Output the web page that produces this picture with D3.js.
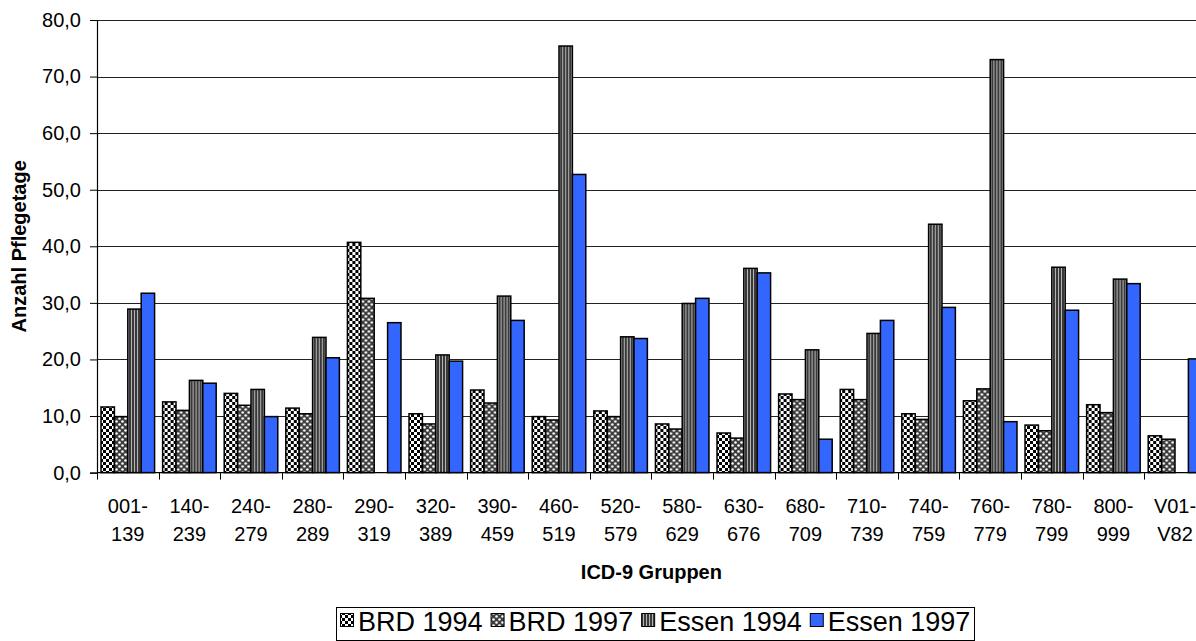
<!DOCTYPE html>
<html>
<head>
<meta charset="utf-8">
<script src="https://cdn.jsdelivr.net/npm/d3@7"></script>
<style>
  html, body { margin: 0; padding: 0; background: #fff; }
  svg { display: block; font-family: "Liberation Sans", Arial, sans-serif; }
</style>
</head>
<body>
<svg id="chart" width="1196" height="641"></svg>
<script>
// ICD-9 groups and average length of stay (days)
const categories = ["001-139", "140-239", "240-279", "280-289", "290-319", "320-389",
  "390-459", "460-519", "520-579", "580-629", "630-676", "680-709", "710-739",
  "740-759", "760-779", "780-799", "800-999", "V01-V82"];
const seriesNames = ["BRD 1994", "BRD 1997", "Essen 1994", "Essen 1997"];
const brd1994   = [11.6, 12.5, 14.0, 11.4, 40.7, 10.4, 14.6, 9.9, 10.9, 8.6, 7.0, 13.9, 14.7, 10.4, 12.7, 8.4, 12.0, 6.5];
const brd1997   = [9.9, 11.0, 11.9, 10.4, 30.8, 8.6, 12.3, 9.3, 9.9, 7.7, 6.1, 12.9, 12.9, 9.4, 14.8, 7.4, 10.6, 5.9];
const essen1994 = [28.9, 16.3, 14.7, 23.9, null, 20.8, 31.2, 75.4, 24.0, 29.9, 36.1, 21.7, 24.6, 43.9, 73.0, 36.3, 34.2, null];
const essen1997 = [31.7, 15.8, 9.9, 20.3, 26.5, 19.7, 26.9, 52.7, 23.7, 30.8, 35.3, 5.9, 26.9, 29.2, 9.0, 28.7, 33.4, 20.1];
const yTicks = [0, 10, 20, 30, 40, 50, 60, 70, 80];

const seriesValues = [brd1994, brd1997, essen1994, essen1997];
const fills = ["url(#pCheck)", "url(#pDots)", "url(#pStripes)", "#3366ff"];

const svg = d3.select("#chart");
const plot = { left: 97, right: 1205.8, top: 20, bottom: 472.6 };

// fill patterns
const defs = svg.append("defs");
const pc = defs.append("pattern").attr("id", "pCheck").attr("patternUnits", "userSpaceOnUse")
  .attr("width", 6).attr("height", 6);
pc.append("rect").attr("width", 6).attr("height", 6).attr("fill", "#fff");
pc.append("rect").attr("width", 3).attr("height", 3).attr("fill", "#000");
pc.append("rect").attr("x", 3).attr("y", 3).attr("width", 3).attr("height", 3).attr("fill", "#000");

const pd = defs.append("pattern").attr("id", "pDots").attr("patternUnits", "userSpaceOnUse")
  .attr("width", 6).attr("height", 6);
pd.append("rect").attr("width", 6).attr("height", 6).attr("fill", "#3c3c3c");
pd.append("circle").attr("cx", 1.5).attr("cy", 1.5).attr("r", 1.3).attr("fill", "#fff");
pd.append("circle").attr("cx", 4.5).attr("cy", 4.5).attr("r", 1.3).attr("fill", "#fff");

const ps = defs.append("pattern").attr("id", "pStripes").attr("patternUnits", "userSpaceOnUse")
  .attr("width", 3).attr("height", 4);
ps.append("rect").attr("width", 3).attr("height", 4).attr("fill", "#3a3a3a");
ps.append("rect").attr("x", 1).attr("width", 1).attr("height", 4).attr("fill", "#b4b4b4");

// scales
const x = d3.scaleBand().domain(categories).range([plot.left, plot.right]).padding(0);
const x1 = d3.scaleBand().domain(seriesNames).range([0, x.bandwidth()])
  .paddingInner(0).paddingOuter(0.3);
const y = d3.scaleLinear().domain([0, 80]).range([plot.bottom, plot.top]);

// gridlines
svg.append("g").selectAll("line").data(yTicks.filter(d => d > 0)).join("line")
  .attr("x1", plot.left).attr("x2", plot.right)
  .attr("y1", d => Math.round(y(d)) + 0.5).attr("y2", d => Math.round(y(d)) + 0.5)
  .attr("stroke", "#222").attr("stroke-width", 1);

// bars
const groups = svg.append("g").selectAll("g").data(categories).join("g")
  .attr("transform", c => `translate(${x(c)},0)`);
groups.selectAll("rect")
  .data((c, i) => seriesNames.map((s, k) => ({ s, k, v: seriesValues[k][i] })).filter(d => d.v != null))
  .join("rect")
  .attr("x", d => x1(d.s))
  .attr("width", x1.bandwidth())
  .attr("y", d => y(d.v))
  .attr("height", d => y(0) - y(d.v))
  .attr("fill", d => fills[d.k])
  .attr("stroke", "#000").attr("stroke-width", 1.5);

// y axis
const yAxis = svg.append("g").attr("transform", `translate(${plot.left},0)`)
  .call(d3.axisLeft(y).tickValues(yTicks).tickSize(7).tickPadding(9)
    .tickFormat(d => d.toFixed(1).replace(".", ",")));
yAxis.select(".domain").attr("stroke", "#000").attr("stroke-width", 1.2);
yAxis.selectAll(".tick line").attr("stroke", "#000");
yAxis.selectAll("text").attr("font-size", 20).attr("fill", "#000")
  .attr("font-family", "Liberation Sans, Arial, sans-serif");

// x axis
const xAxis = svg.append("g").attr("transform", `translate(0,${plot.bottom})`);
xAxis.append("line").attr("x1", plot.left).attr("x2", plot.right)
  .attr("stroke", "#000").attr("stroke-width", 1.2);
xAxis.selectAll("line.tk").data(categories.concat(["end"])).join("line").attr("class", "tk")
  .attr("x1", (c, i) => i < categories.length ? Math.round(x(c)) + 0.5 : plot.right)
  .attr("x2", (c, i) => i < categories.length ? Math.round(x(c)) + 0.5 : plot.right)
  .attr("y1", 0).attr("y2", 7).attr("stroke", "#000");
const xl = xAxis.selectAll("text").data(categories).join("text")
  .attr("text-anchor", "middle").attr("font-size", 20).attr("fill", "#000");
xl.append("tspan").attr("x", c => x(c) + x.bandwidth() / 2).attr("y", 40)
  .text(c => c.split("-")[0] + "-");
xl.append("tspan").attr("x", c => x(c) + x.bandwidth() / 2).attr("y", 68)
  .text(c => c.split("-")[1]);

// axis titles
svg.append("text").attr("x", (plot.left + plot.right) / 2).attr("y", 579)
  .attr("text-anchor", "middle").attr("font-weight", "bold").attr("font-size", 20)
  .text("ICD-9 Gruppen");
svg.append("text").attr("transform", `translate(26,${(plot.top + plot.bottom) / 2}) rotate(-90)`)
  .attr("text-anchor", "middle").attr("font-weight", "bold").attr("font-size", 20)
  .text("Anzahl Pflegetage");

// legend
const legend = svg.append("g");
legend.append("rect").attr("x", 336.5).attr("y", 607.5).attr("width", 638).attr("height", 33)
  .attr("fill", "#fff").attr("stroke", "#000");
let lx = 340;
seriesNames.forEach((s, k) => {
  legend.append("rect").attr("x", lx + 0.5).attr("y", 613.5).attr("width", 13).attr("height", 13)
    .attr("fill", fills[k]).attr("stroke", "#000").attr("stroke-width", 1);
  const t = legend.append("text").attr("x", lx + 18).attr("y", 631).attr("font-size", 27).text(s);
  lx += 18 + t.node().getComputedTextLength() + 8;
});
</script>
</body>
</html>
